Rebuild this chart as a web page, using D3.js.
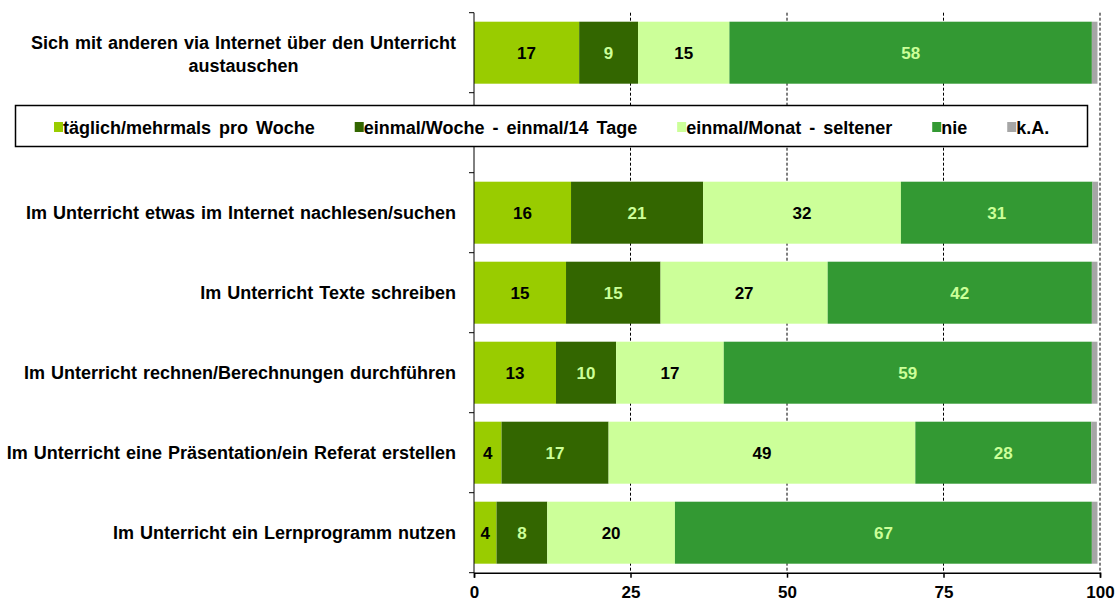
<!DOCTYPE html>
<meta charset="utf-8">
<script src="https://d3js.org/d3.v7.min.js"></script>
<style>
  body { margin: 0; background: #fff; }
  text { font-family: "Liberation Sans", Arial, sans-serif; font-weight: bold; }
</style>
<div id="chart"></div>
<script>

    // data (percent)
    var categories = [
        "Sich mit anderen via Internet über den Unterricht|austauschen",
        "Im Unterricht etwas im Internet nachlesen/suchen",
        "Im Unterricht Texte schreiben",
        "Im Unterricht rechnen/Berechnungen durchführen",
        "Im Unterricht eine Präsentation/ein Referat erstellen",
        "Im Unterricht ein Lernprogramm nutzen"
    ];
    var series = ["täglich/mehrmals pro Woche", "einmal/Woche - einmal/14 Tage", "einmal/Monat - seltener", "nie", "k.A."];
    var taeglich = [16.8, 15.5, 14.7, 13.1, 4.4, 3.6];
    var woechentlich = [9.4, 21.1, 15.1, 9.6, 17.1, 8.1];
    var monatlich = [14.6, 31.6, 26.7, 17.2, 49.0, 20.4];
    var nie = [57.9, 30.6, 42.2, 58.8, 28.1, 66.6];
    var keineAngabe = [0.9, 0.9, 0.9, 0.9, 0.9, 0.9];
    var xTicks = [0, 25, 50, 75, 100];

    var colors = ["#99cc00", "#336600", "#ccff99", "#339933", "#a6a6a6"];
    var labelColors = ["#000", "#ccff99", "#000", "#ccff99", null];

    var W = 1118, H = 603;
    var svg = d3.select("#chart").append("svg")
        .attr("width", W)
        .attr("height", H);

    // one empty slot after the first row, where the legend sits
    var slots = [categories[0], "_legend", ...categories.slice(1)];

    var x = d3.scaleLinear().domain([0, 100]).range([474, 1100]);
    var y = d3.scaleBand().domain(slots).range([12.7, 572.7])
        .paddingInner(0.225).paddingOuter(0.1125);

    // build rows
    var cols = [taeglich, woechentlich, monatlich, nie, keineAngabe];
    var rows = categories.map(function (c, i) {
        var x0 = 0;
        return cols.map(function (arr, s) {
            var d = { cat: c, s: s, v: arr[i], x0: x0, x1: x0 + arr[i] };
            x0 += arr[i];
            return d;
        });
    });
    var segs = rows.flat();

    // dashed grid
    svg.append("g").selectAll("line")
        .data(xTicks.slice(1))
        .enter().append("line")
        .attr("x1", function (d) { return x(d); })
        .attr("x2", function (d) { return x(d); })
        .attr("y1", 12.7)
        .attr("y2", 572.7)
        .attr("stroke", "#000")
        .attr("stroke-width", 1)
        .attr("stroke-dasharray", "3,2");

    // bars
    svg.append("g").selectAll("rect")
        .data(segs)
        .enter().append("rect")
        .attr("x", function (d) { return x(d.x0); })
        .attr("y", function (d) { return y(d.cat); })
        .attr("width", function (d) { return x(d.x1) - x(d.x0); })
        .attr("height", y.bandwidth())
        .attr("fill", function (d) { return colors[d.s]; });

    // value labels
    svg.append("g").selectAll("text")
        .data(segs.filter(function (d) { return d.s < 4; }))
        .enter().append("text")
        .attr("x", function (d) { return (x(d.x0) + x(d.x1)) / 2; })
        .attr("y", function (d) { return y(d.cat) + y.bandwidth() / 2; })
        .attr("dy", "0.35em")
        .attr("text-anchor", "middle")
        .attr("font-size", 17)
        .attr("fill", function (d) { return labelColors[d.s]; })
        .text(function (d) { return Math.round(d.v); });

    // y axis
    var yAxis = svg.append("g");
    yAxis.append("line")
        .attr("x1", 474).attr("x2", 474)
        .attr("y1", 12.7).attr("y2", 572.7)
        .attr("stroke", "#000");
    yAxis.selectAll("line.tick")
        .data(d3.range(slots.length + 1))
        .enter().append("line")
        .attr("class", "tick")
        .attr("x1", 469).attr("x2", 474)
        .attr("y1", function (i) { return 12.7 + i * y.step(); })
        .attr("y2", function (i) { return 12.7 + i * y.step(); })
        .attr("stroke", "#000");

    // category labels
    var labels = svg.append("g").selectAll("text")
        .data(categories)
        .enter().append("text")
        .attr("font-size", 18)
        .attr("word-spacing", 1)
        .attr("fill", "#000");
    labels.each(function (c) {
        var t = d3.select(this);
        var parts = c.split("|");
        var cy = y(c) + y.bandwidth() / 2;
        if (parts.length == 1) {
            t.attr("x", 456).attr("y", cy).attr("dy", "0.35em")
                .attr("text-anchor", "end").text(c);
        } else {
            var first = t.append("tspan").attr("x", 456).attr("y", cy - 10).attr("dy", "0.35em")
                .attr("text-anchor", "end").text(parts[0]);
            var w = first.node().getComputedTextLength();
            t.append("tspan").attr("x", 456 - w / 2).attr("y", cy + 13).attr("dy", "0.35em")
                .attr("text-anchor", "middle").text(parts[1]);
        }
    });

    // x axis
    var xAxis = svg.append("g")
        .attr("transform", "translate(0,572.7)")
        .call(d3.axisBottom(x).tickValues(xTicks).tickSize(5).tickPadding(8));
    xAxis.select(".domain").attr("stroke", "#000").attr("stroke-width", 1.5);
    xAxis.selectAll(".tick line").attr("stroke", "#000").attr("stroke-width", 1.5);
    xAxis.selectAll("text")
        .attr("font-family", "Liberation Sans, Arial, sans-serif")
        .attr("font-weight", "bold")
        .attr("font-size", 17)
        .attr("fill", "#000");

    // legend
    var legend = svg.append("g");
    legend.append("rect")
        .attr("x", 15.5).attr("y", 105.5)
        .attr("width", 1072).attr("height", 41)
        .attr("fill", "#fff")
        .attr("stroke", "#000")
        .attr("stroke-width", 1.5);
    var lx = 54;
    series.forEach(function (name, i) {
        legend.append("rect")
            .attr("x", lx).attr("y", 122)
            .attr("width", 9).attr("height", 10)
            .attr("fill", colors[i]);
        var t = legend.append("text")
            .attr("x", lx + 9).attr("y", 133.5)
            .attr("font-size", 18)
            .attr("word-spacing", 3)
            .attr("fill", "#000")
            .text(name);
        lx += 9 + t.node().getComputedTextLength() + 40;
    });

</script>
